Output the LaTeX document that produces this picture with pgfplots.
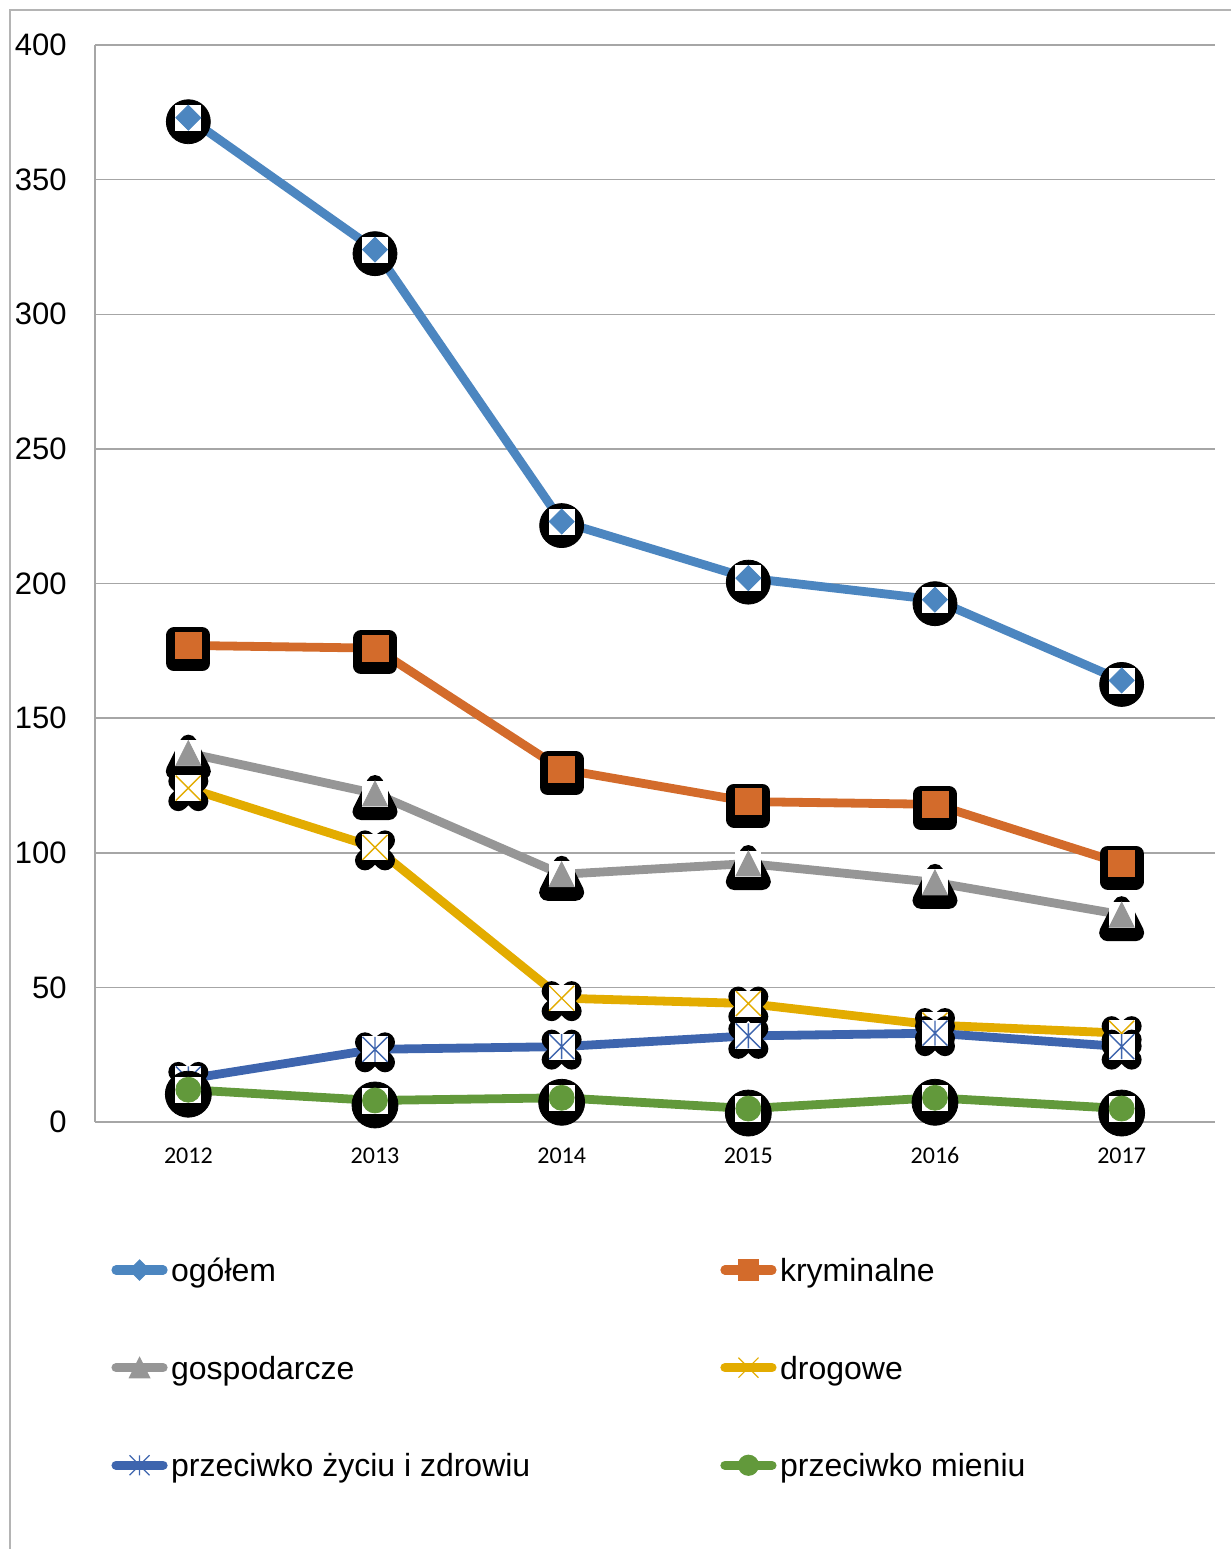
\documentclass[border=0pt]{standalone}
\usepackage{fontspec}
\setmainfont{Liberation Sans}
\newfontfamily\carlito{Carlito}
\usepackage{pgfplots}
\pgfplotsset{compat=1.18}
\usepackage{pgfplotstable}

\definecolor{c1}{RGB}{76,134,192}
\definecolor{c2}{RGB}{211,107,43}
\definecolor{c3}{RGB}{150,150,150}
\definecolor{c4}{RGB}{227,172,0}
\definecolor{c5}{RGB}{62,101,174}
\definecolor{c6}{RGB}{98,153,59}
\definecolor{gridgray}{RGB}{166,166,166}
\definecolor{framegray}{RGB}{180,180,180}

\pgfdeclareplotmark{dia}{%
  \pgfpathmoveto{\pgfqpoint{0pt}{\pgfplotmarksize}}%
  \pgfpathlineto{\pgfqpoint{\pgfplotmarksize}{0pt}}%
  \pgfpathlineto{\pgfqpoint{0pt}{-\pgfplotmarksize}}%
  \pgfpathlineto{\pgfqpoint{-\pgfplotmarksize}{0pt}}%
  \pgfpathclose
  \pgfusepathqfillstroke}
\pgfdeclareplotmark{tri}{%
  \pgfpathmoveto{\pgfqpoint{0pt}{\pgfplotmarksize}}%
  \pgfpathlineto{\pgfqpoint{\pgfplotmarksize}{-\pgfplotmarksize}}%
  \pgfpathlineto{\pgfqpoint{-\pgfplotmarksize}{-\pgfplotmarksize}}%
  \pgfpathclose
  \pgfusepathqfillstroke}
\pgfdeclareplotmark{xbar}{%
  \pgfpathmoveto{\pgfqpoint{-.70710678\pgfplotmarksize}{-.70710678\pgfplotmarksize}}%
  \pgfpathlineto{\pgfqpoint{.70710678\pgfplotmarksize}{.70710678\pgfplotmarksize}}%
  \pgfpathmoveto{\pgfqpoint{-.70710678\pgfplotmarksize}{.70710678\pgfplotmarksize}}%
  \pgfpathlineto{\pgfqpoint{.70710678\pgfplotmarksize}{-.70710678\pgfplotmarksize}}%
  \pgfpathmoveto{\pgfqpoint{0pt}{-.70710678\pgfplotmarksize}}%
  \pgfpathlineto{\pgfqpoint{0pt}{.70710678\pgfplotmarksize}}%
  \pgfusepathqstroke}

\pgfplotstableread{
x a b c d e f
0 373 177 137 124 16 12
1 324 176 122 102 27 8
2 223 131 92 46 28 9
3 202 119 96 44 32 5
4 194 118 89 36 33 9
5 164 96 77 33 28 5
}\data

\begin{document}
\begin{tikzpicture}
\useasboundingbox (0,0) rectangle (615.5pt,-774.5pt);
\clip (0,0) rectangle (615.5pt,-774.5pt);
\draw[framegray, line width=1pt] (5pt,-5pt) rectangle (640pt,-800pt);
\begin{axis}[
  scale only axis, width=560pt, height=538.5pt,
  at={(47.5pt,-561pt)}, anchor=south west,
  xmin=-0.5, xmax=5.5, ymin=0, ymax=400,
  xtick={0,...,5}, xticklabels={2012,2013,2014,2015,2016,2017},
  ytick={0,50,...,400},
  axis lines=left, axis line style={-, draw=gridgray, line width=0.75pt},
  ymajorgrids, major grid style={draw=gridgray, line width=0.75pt},
  major tick length=0pt,
  /pgf/number format/assume math mode=true,
  yticklabel style={font=\fontsize{15.5}{18}\selectfont, anchor=east, inner sep=0pt, xshift=-14pt, text=black},
  xticklabel style={font=\carlito\fontsize{12}{14}\selectfont, anchor=north, inner sep=0pt, text height=8pt, text depth=0pt, yshift=-12.5pt, text=black},
  legend columns=2,
  legend cell align=left,
  legend image code/.code={
    \draw[#1, line width=4.6pt, line cap=round, mark=none] (0pt,0pt) -- (23.5pt,0pt);
    \draw[#1, only marks, line width=0.6pt] plot coordinates {(11.75pt,0pt)};
  },
  legend style={at={(0.0147,-0.1186)}, anchor=north west, draw=none, fill=none,
    inner sep=0pt, outer sep=0pt, font=\fontsize{16}{19}\selectfont,
    row sep=28.5pt, column sep=0pt,
    nodes={inner sep=0pt, text height=16pt, text depth=4.3pt},
    /tikz/every odd column/.append style={column sep=1.75pt},
    /tikz/column 2/.style={column sep=95pt}},
]
% ogolem
\addplot[forget plot, only marks, mark=*, mark size=11pt, black, mark options={yshift=-2pt}] table[x=x,y=a]{\data};
\addplot[forget plot, c1, line width=4.4pt, line join=round, mark=none] table[x=x,y=a]{\data};
\addplot[forget plot, only marks, mark=square*, mark size=6.25pt, white, mark options={draw=none}] table[x=x,y=a]{\data};
\addplot[forget plot, only marks, mark=dia, mark size=6.25pt, c1, mark options={draw=none}] table[x=x,y=a]{\data};
% kryminalne
\addplot[forget plot, only marks, mark=square*, mark size=7pt, black, mark options={line width=8pt, line join=round, yshift=-2pt}] table[x=x,y=b]{\data};
\addplot[forget plot, c2, line width=4.4pt, line join=round, mark=none] table[x=x,y=b]{\data};
\addplot[forget plot, only marks, mark=square*, mark size=6.5pt, c2, mark options={draw=none}] table[x=x,y=b]{\data};
% gospodarcze
\addplot[forget plot, only marks, mark=tri, mark size=7pt, black, mark options={line width=8.5pt, line join=round, yshift=-2pt}] table[x=x,y=c]{\data};
\addplot[forget plot, c3, line width=4.4pt, line join=round, mark=none] table[x=x,y=c]{\data};
\addplot[forget plot, only marks, mark=square*, mark size=6.25pt, white, mark options={draw=none}] table[x=x,y=c]{\data};
\addplot[forget plot, only marks, mark=tri, mark size=6.25pt, c3, mark options={draw=none}] table[x=x,y=c]{\data};
% drogowe
\addplot[forget plot, only marks, mark=x, mark size=7.07pt, black, mark options={line width=10pt, line cap=round, yshift=-1.5pt}] table[x=x,y=d]{\data};
\addplot[forget plot, c4, line width=4.4pt, line join=round, mark=none] table[x=x,y=d]{\data};
\addplot[forget plot, only marks, mark=square*, mark size=6.25pt, white, mark options={draw=none}] table[x=x,y=d]{\data};
\addplot[forget plot, only marks, mark=x, mark size=8.84pt, c4, mark options={line width=0.7pt}] table[x=x,y=d]{\data};
% przeciwko zyciu
\addplot[forget plot, only marks, mark=x, mark size=7.07pt, black, mark options={line width=10pt, line cap=round, yshift=-1.5pt}] table[x=x,y=e]{\data};
\addplot[forget plot, c5, line width=4.4pt, line join=round, mark=none] table[x=x,y=e]{\data};
\addplot[forget plot, only marks, mark=square*, mark size=6.25pt, white, mark options={draw=none}] table[x=x,y=e]{\data};
\addplot[forget plot, only marks, mark=xbar, mark size=8.84pt, c5, mark options={line width=0.7pt}] table[x=x,y=e]{\data};
% przeciwko mieniu
\addplot[forget plot, only marks, mark=*, mark size=11.5pt, black, mark options={yshift=-2.25pt}] table[x=x,y=f]{\data};
\addplot[forget plot, c6, line width=4.4pt, line join=round, mark=none] table[x=x,y=f]{\data};
\addplot[forget plot, only marks, mark=square*, mark size=6.25pt, white, mark options={draw=none}] table[x=x,y=f]{\data};
\addplot[forget plot, only marks, mark=*, mark size=6.25pt, c6, mark options={draw=none}] table[x=x,y=f]{\data};

\addlegendimage{c1, mark=dia, mark size=5pt, mark options={draw=none}}
\addlegendentry{ogółem}
\addlegendimage{c2, mark=square*, mark size=5pt, mark options={draw=none}}
\addlegendentry{kryminalne}
\addlegendimage{c3, mark=tri, mark size=5pt, mark options={draw=none}}
\addlegendentry{gospodarcze}
\addlegendimage{c4, mark=x, mark size=7.07pt}
\addlegendentry{drogowe}
\addlegendimage{c5, mark=xbar, mark size=7.07pt}
\addlegendentry{przeciwko życiu i zdrowiu}
\addlegendimage{c6, mark=*, mark size=5pt, mark options={draw=none}}
\addlegendentry{przeciwko mieniu}
\end{axis}
\end{tikzpicture}
\end{document}
